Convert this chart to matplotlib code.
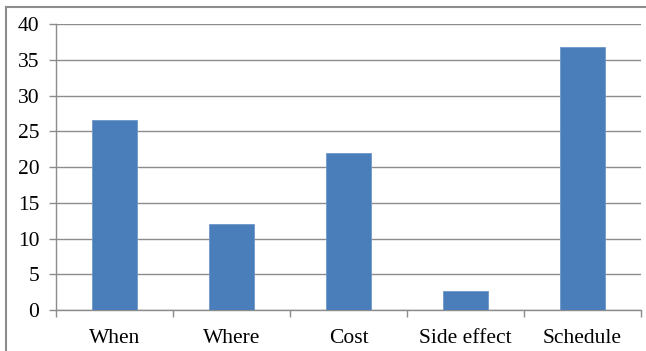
import matplotlib
matplotlib.use("Agg")
import matplotlib.pyplot as plt
from matplotlib.lines import Line2D
import numpy as np

categories = ["When", "Where", "Cost", "Side effect", "Schedule"]
values = [26.6, 12.0, 22.0, 2.7, 36.8]
y_ticks = [0, 5, 10, 15, 20, 25, 30, 35, 40]

plt.rcParams['font.family'] = ['Liberation Serif', 'DejaVu Serif']

W, H = 646, 351
fig = plt.figure(figsize=(W / 100, H / 100), dpi=100)

# plot area in pixels: x 56..641, y 24..310 (from top)
left, right, top, bottom = 56, 641, 24, 310
ax = fig.add_axes([left / W, 1 - bottom / H, (right - left) / W, (bottom - top) / H])

x = np.arange(len(categories))
ax.bar(x, values, width=0.39, color="#4a7ebb", edgecolor="#6f97c9", linewidth=0.6, zorder=3)

ax.set_xlim(-0.5, len(categories) - 0.5)
ax.set_ylim(0, 40)
ax.set_yticks(y_ticks)
ax.set_yticklabels([str(t) for t in y_ticks], fontsize=15.5)
ax.set_xticks(x)
ax.set_xticklabels(categories, fontsize=15.5)
ax.set_xticks(np.arange(len(categories) + 1) - 0.5, minor=True)

ax.yaxis.grid(True, color="#8c8c8c", linewidth=1.0, zorder=0)
ax.set_axisbelow(True)

for s in ["top", "right"]:
    ax.spines[s].set_visible(False)
for s in ["left", "bottom"]:
    ax.spines[s].set_color("#8c8c8c")
    ax.spines[s].set_linewidth(1.0)

ax.tick_params(axis="y", which="major", length=5, width=1.0, color="#8c8c8c", pad=7, labelcolor="black")
ax.tick_params(axis="x", which="major", length=0, pad=14, labelcolor="black")
ax.tick_params(axis="x", which="minor", length=5, width=1.0, color="#8c8c8c")

# outer chart border (left and top edges visible in the crop)
fig.add_artist(Line2D([5.5 / W, 5.5 / W], [0, 1 - 7 / H], transform=fig.transFigure, color="#8c8c8c", linewidth=1.5))
fig.add_artist(Line2D([5.5 / W, 1], [1 - 7 / H, 1 - 7 / H], transform=fig.transFigure, color="#8c8c8c", linewidth=1.5))

fig.savefig("out.png", dpi=100)
